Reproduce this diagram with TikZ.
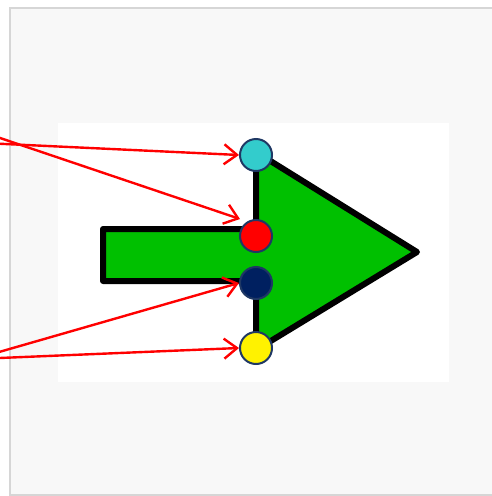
\documentclass[tikz,border=0pt]{standalone}
\usetikzlibrary{arrows.meta}
\definecolor{panelfill}{HTML}{F8F8F8}
\definecolor{panelline}{HTML}{D6D6D6}
\definecolor{arrowgreen}{HTML}{00C000}
\definecolor{dotcyan}{HTML}{33CCCC}
\definecolor{dotnavy}{HTML}{002060}
\definecolor{dotedge}{HTML}{1F3864}
\tikzset{
  dot/.style={circle, minimum size=32pt, inner sep=0pt, line width=2pt, draw=dotedge},
  pointer/.style={draw=red, line width=2.4pt, -{Straight Barb[length=13pt,width=20pt,line width=2.4pt]}}
}
\begin{document}
\begin{tikzpicture}[x=1pt,y=-1pt]
\useasboundingbox (0,0) rectangle (491,496);
\fill[white] (0,0) rectangle (491,496);
\draw[panelline, fill=panelfill, line width=2pt] (9.5,7.5) rectangle (500,494.5);
\fill[white] (58,123) rectangle (449,382);
\draw[black, fill=arrowgreen, line width=6pt, line join=round]
  (103,229) -- (256,229) -- (256,152) -- (417,252) -- (256,350) -- (256,281) -- (103,281) -- cycle;
\node[dot, fill=dotcyan] (cyan) at (256,155) {};
\node[dot, fill=red] (redd) at (256,236) {};
\node[dot, fill=dotnavy] (navy) at (256,283) {};
\node[dot, fill=yellow] (yell) at (256,348) {};
\coordinate (s1) at (-10,143.3);
\coordinate (s2) at (-10,134.6);
\coordinate (s3) at (-10,354.6);
\coordinate (s4) at (-10,358.4);
\coordinate (redtarget) at (240,219);
\begin{scope}
\clip (0,0) rectangle (491,496);
\draw[pointer] (s1) -- (cyan.west);
\draw[pointer] (s2) -- (redtarget);
\draw[pointer] (s3) -- (navy.west);
\draw[pointer] (s4) -- (yell.west);
\end{scope}
\end{tikzpicture}
\end{document}
